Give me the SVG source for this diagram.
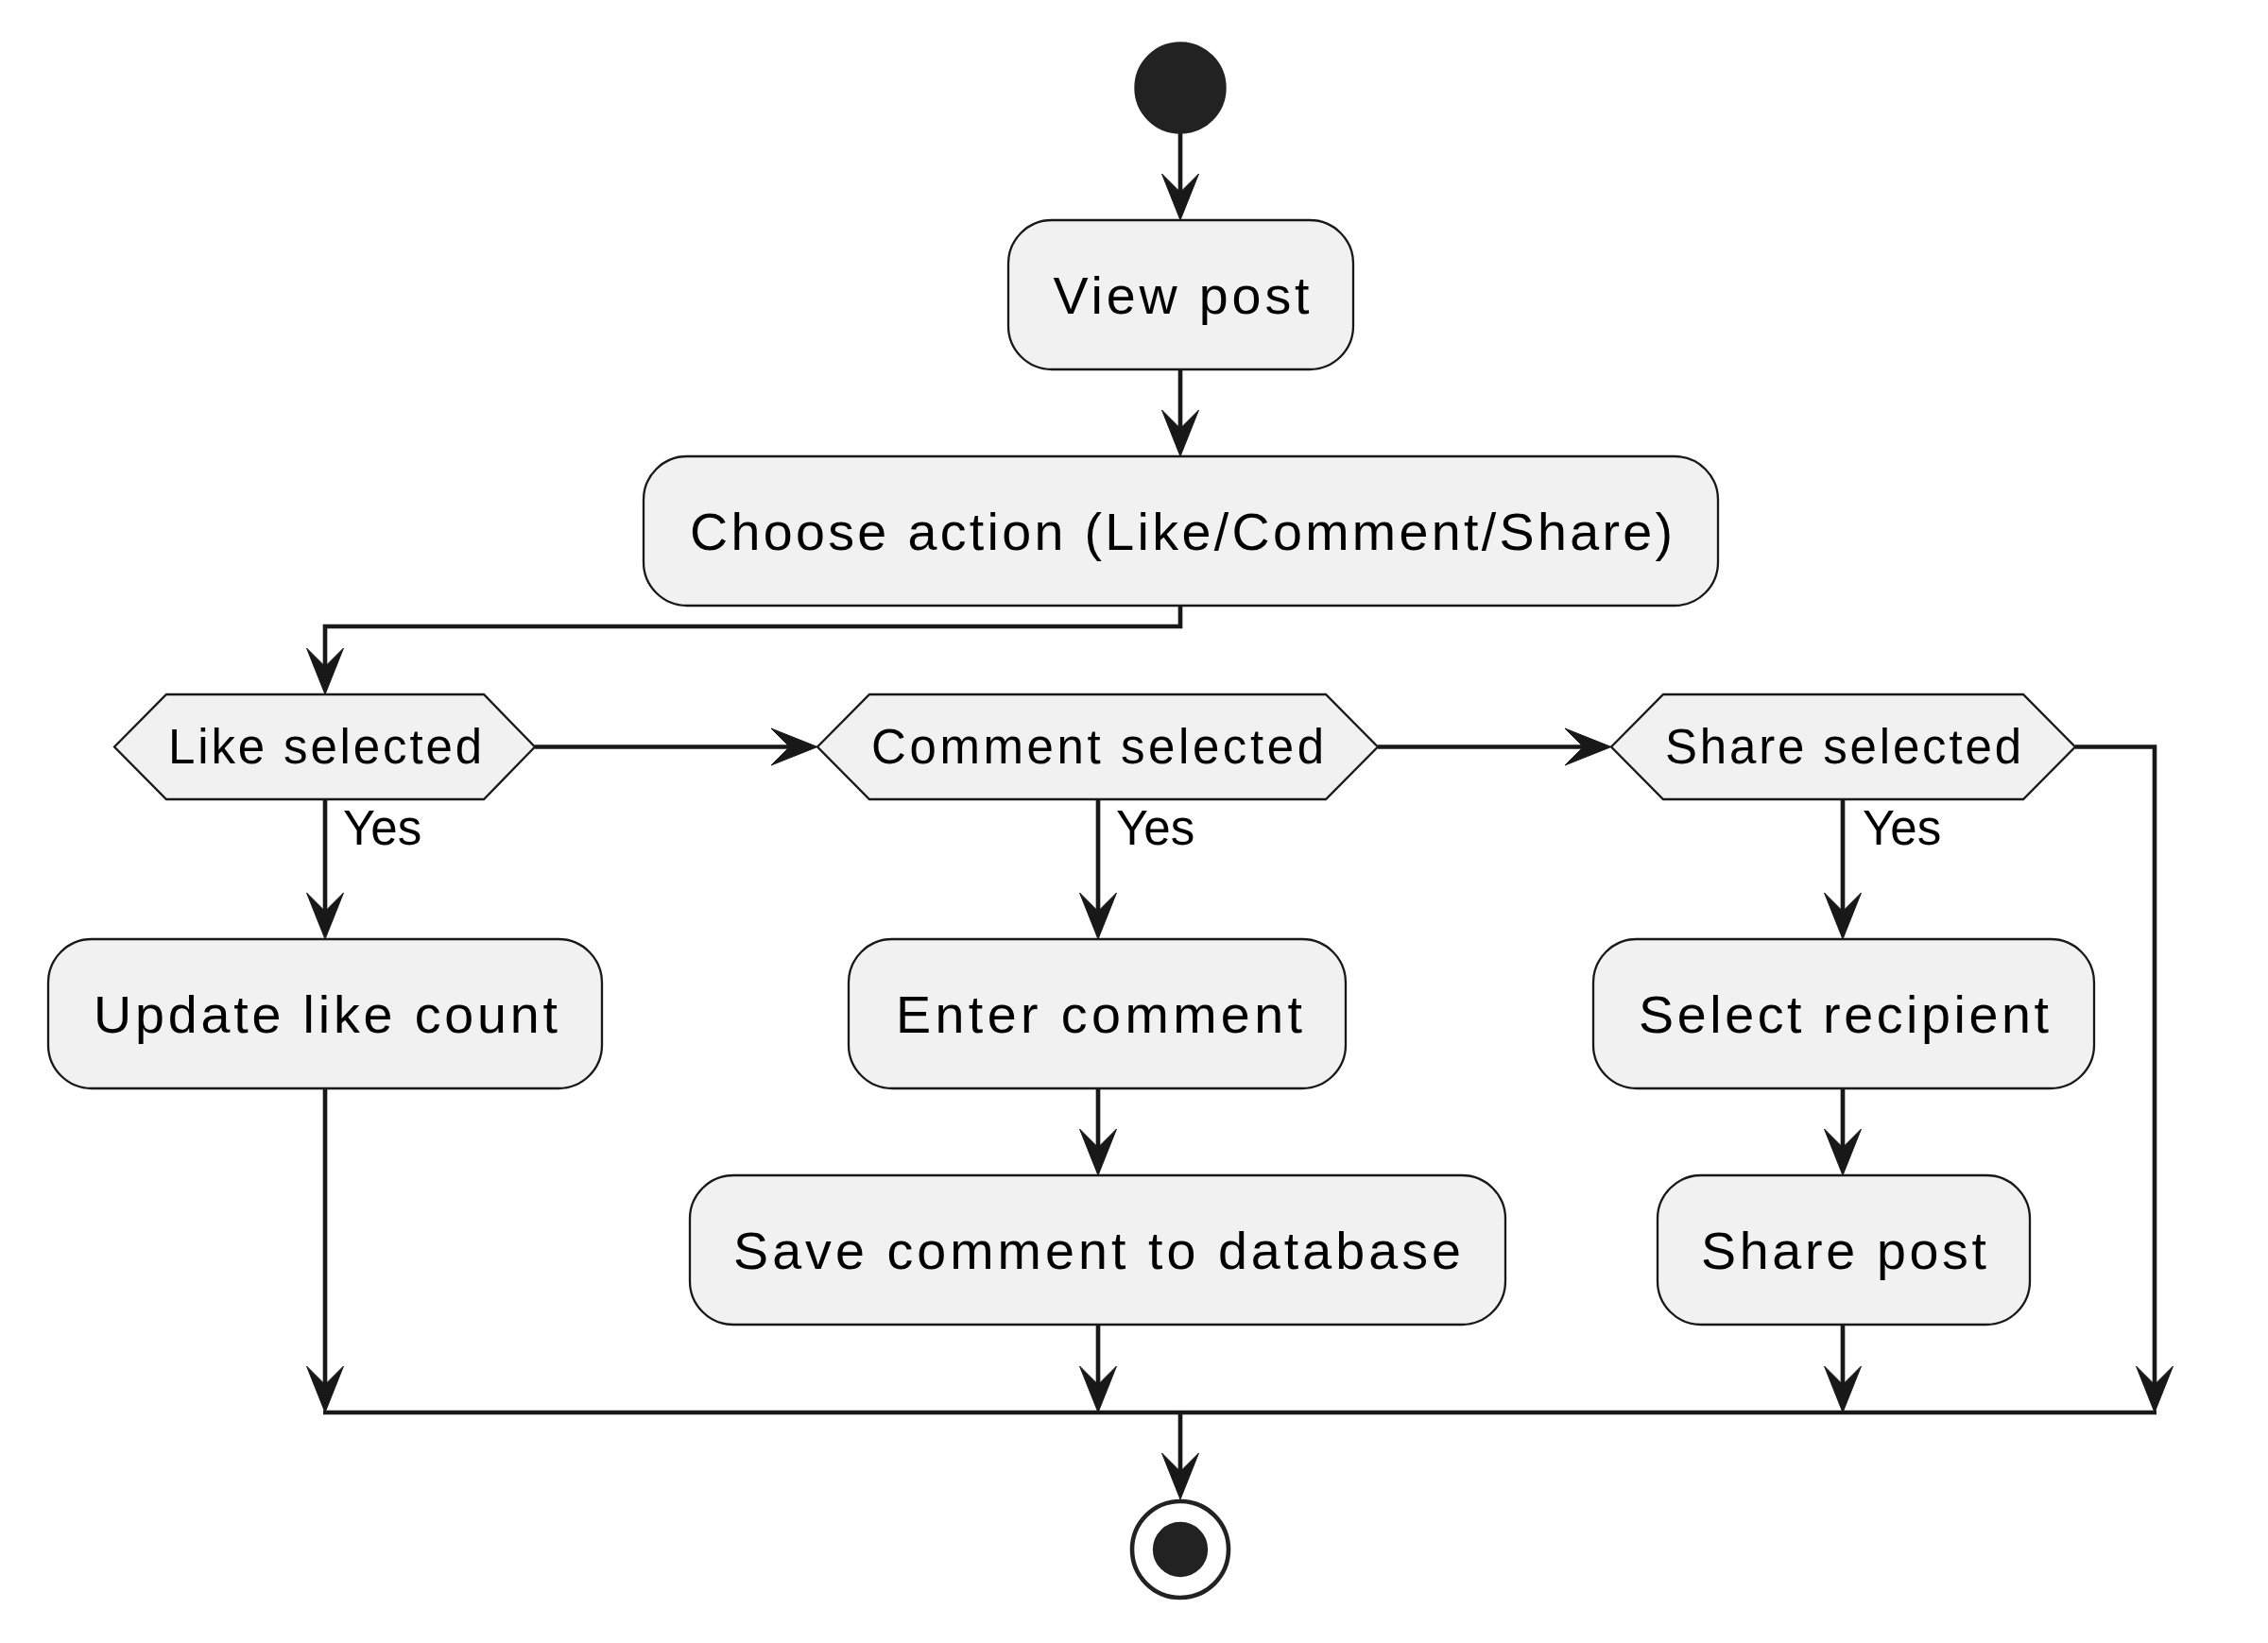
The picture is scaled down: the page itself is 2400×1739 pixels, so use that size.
<svg xmlns="http://www.w3.org/2000/svg" xmlns:xlink="http://www.w3.org/1999/xlink" width="2400" height="1739" viewBox="0 0 2400 1739">
<style>
.box{fill:#F1F1F1;stroke:#181818;stroke-width:2.3}
.t{font-family:"Liberation Sans",Arial,sans-serif;font-size:55.6px;fill:#000;text-anchor:middle}
.d{font-family:"Liberation Sans",Arial,sans-serif;font-size:51px;fill:#000;text-anchor:middle}
.y{font-family:"Liberation Sans",Arial,sans-serif;font-size:51px;fill:#000}
.ln{fill:none;stroke:#181818;stroke-width:4.64}
.ah{fill:#181818;stroke:#181818;stroke-width:1}
</style>
<defs>
<path id="ah" d="M0,0 L-19.5,-49 L0,-29.5 L19.5,-49 Z"/>
</defs>
<rect width="2400" height="1739" fill="#FFFFFF"/>
<g id="connectors">
<path class="ln" d="M1249,140 V210"/>
<use href="#ah" class="ah" x="1249" y="233"/>
<path class="ln" d="M1249,391 V460"/>
<use href="#ah" class="ah" x="1249" y="483"/>
<path class="ln" d="M1249,641 V663 H344 V712"/>
<use href="#ah" class="ah" x="344" y="735"/>
<path class="ln" d="M566,790.5 H842"/>
<use href="#ah" class="ah" transform="translate(865,790.5) rotate(-90)"/>
<path class="ln" d="M1458,790.5 H1682"/>
<use href="#ah" class="ah" transform="translate(1705,790.5) rotate(-90)"/>
<path class="ln" d="M2196,790.5 H2280 V1472"/>
<use href="#ah" class="ah" x="2280" y="1495"/>
<path class="ln" d="M344,846 V971"/>
<use href="#ah" class="ah" x="344" y="994"/>
<path class="ln" d="M1162,846 V971"/>
<use href="#ah" class="ah" x="1162" y="994"/>
<path class="ln" d="M1950,846 V971"/>
<use href="#ah" class="ah" x="1950" y="994"/>
<text class="y" x="363" y="894">Yes</text>
<text class="y" x="1181" y="894">Yes</text>
<text class="y" x="1971" y="894">Yes</text>
<path class="ln" d="M1162,1152 V1221"/>
<use href="#ah" class="ah" x="1162" y="1244"/>
<path class="ln" d="M1950,1152 V1221"/>
<use href="#ah" class="ah" x="1950" y="1244"/>
<path class="ln" d="M344,1152 V1472"/>
<use href="#ah" class="ah" x="344" y="1495"/>
<path class="ln" d="M1162,1402 V1472"/>
<use href="#ah" class="ah" x="1162" y="1495"/>
<path class="ln" d="M1950,1402 V1472"/>
<use href="#ah" class="ah" x="1950" y="1495"/>
<path class="ln" d="M342,1495 H2282"/>
<path class="ln" d="M1249,1495 V1564"/>
<use href="#ah" class="ah" x="1249" y="1587"/>
</g>
<g id="start">
<circle cx="1249" cy="93" r="46.4" fill="#222222" stroke="#222222" stroke-width="4.6"/>
</g>
<g id="view-post">
<rect class="box" x="1067" y="233" width="365" height="158" rx="46" ry="46"/>
<text class="t" x="1250" y="332" textLength="271" lengthAdjust="spacing">View post</text>
</g>
<g id="choose-action">
<rect class="box" x="681" y="483" width="1137" height="158" rx="46" ry="46"/>
<text class="t" x="1250" y="582" textLength="1040" lengthAdjust="spacing">Choose action (Like/Comment/Share)</text>
</g>
<g id="like-selected">
<polygon class="box" points="121,790.5 176,735 512,735 566,790.5 512,846 176,846"/>
<text class="d" x="344" y="808" textLength="332" lengthAdjust="spacing">Like selected</text>
</g>
<g id="comment-selected">
<polygon class="box" points="865,790.5 920,735 1403,735 1458,790.5 1403,846 920,846"/>
<text class="d" x="1161.5" y="808" textLength="479" lengthAdjust="spacing">Comment selected</text>
</g>
<g id="share-selected">
<polygon class="box" points="1705,790.5 1760,735 2141,735 2196,790.5 2141,846 1760,846"/>
<text class="d" x="1950.5" y="808" textLength="377" lengthAdjust="spacing">Share selected</text>
</g>
<g id="update-like-count">
<rect class="box" x="51" y="994" width="586" height="158" rx="46" ry="46"/>
<text class="t" x="344.5" y="1093" textLength="491" lengthAdjust="spacing">Update like count</text>
</g>
<g id="enter-comment">
<rect class="box" x="898" y="994" width="526" height="158" rx="46" ry="46"/>
<text class="t" x="1163" y="1093" textLength="430" lengthAdjust="spacing">Enter comment</text>
</g>
<g id="select-recipient">
<rect class="box" x="1686" y="994" width="530" height="158" rx="46" ry="46"/>
<text class="t" x="1951" y="1093" textLength="434" lengthAdjust="spacing">Select recipient</text>
</g>
<g id="save-comment">
<rect class="box" x="730" y="1244" width="863" height="158" rx="46" ry="46"/>
<text class="t" x="1161" y="1343" textLength="770" lengthAdjust="spacing">Save comment to database</text>
</g>
<g id="share-post">
<rect class="box" x="1754" y="1244" width="394" height="158" rx="46" ry="46"/>
<text class="t" x="1951" y="1343" textLength="302" lengthAdjust="spacing">Share post</text>
</g>
<g id="end">
<circle cx="1249" cy="1640" r="51" fill="#FFFFFF" stroke="#222222" stroke-width="4.6"/>
<circle cx="1249" cy="1640" r="28" fill="#222222" stroke="#222222" stroke-width="2.3"/>
</g>
</svg>
